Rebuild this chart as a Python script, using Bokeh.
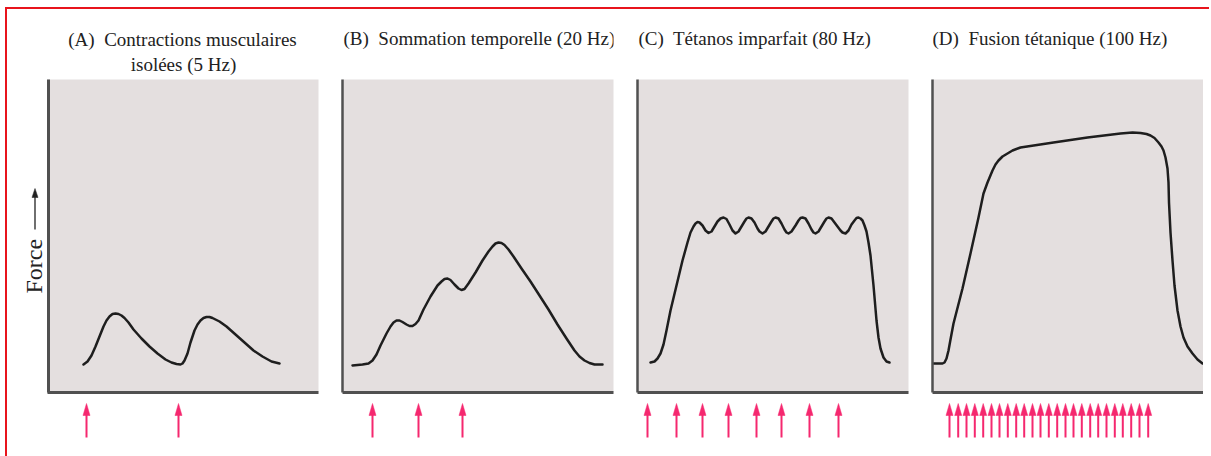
import math
from bokeh.plotting import figure
from bokeh.layouts import row, column
from bokeh.models import Range1d, FixedTicker
from bokeh.core.properties import value
from bokeh.embed import file_html
from bokeh.resources import INLINE

# ---------------- data (time and force in arbitrary units) ----------------
title_a1 = "(A)\u00a0 Contractions musculaires"
title_a2 = "isolées (5 Hz)"
title_b = "(B)\u00a0 Sommation temporelle (20 Hz)"
title_c = "(C)\u00a0 Tétanos imparfait (80 Hz)"
title_d = "(D)\u00a0 Fusion tétanique (100 Hz)"
y_label = "Force"

a_t = [36, 40, 44, 48, 52, 56, 59, 62, 65, 68, 71, 74, 77, 81, 86, 94, 102, 110, 118,
       124, 129, 133, 135, 137, 140, 143, 147, 150, 153, 156, 159, 162, 165, 168,
       172, 179, 188, 197, 206, 215, 224, 232]
a_f = [28, 31, 37, 46, 56, 66, 72, 76, 78.5, 79, 78.5, 77, 74.5, 70, 63, 54, 46, 39, 33,
       30, 28.5, 28, 29, 32, 39, 50, 62, 68, 72, 74.5, 75.5, 75.5, 74.5, 73,
       71, 66, 58, 50, 42, 36, 31, 29]
a_stim = [39, 131]

b_t = [10, 20, 26, 30, 34, 38, 44, 48, 51, 54, 57, 60, 64, 67, 70, 73, 76, 81, 88, 95,
       99, 102, 105, 108, 112, 116, 119, 122, 126, 133, 140, 146, 150, 153, 156, 159,
       162, 166, 171, 179, 188, 197, 206, 215, 224, 232, 237, 242, 247, 252, 260]
b_f = [27, 28, 29, 32, 38, 47, 59, 66, 70, 72, 72, 70.5, 68, 66.5, 66.5, 68.5, 72, 83, 96, 107,
       111, 113.5, 114, 112.5, 108, 104, 102.5, 103.5, 109, 120, 132, 141, 146, 149, 150, 149.5,
       147.5, 143, 136, 124, 111, 97, 83, 68, 54, 42, 36, 32, 29.5, 28, 28]
b_stim = [30, 76, 120]

c_t = [13, 17, 20, 23, 26, 29, 33, 39, 45, 50, 53, 56, 58, 60, 62, 65, 68, 71, 74, 77,
       80, 83, 86, 89, 92, 95, 98, 101, 104, 107, 109, 111, 114, 117, 120, 122, 125, 128,
       131, 134, 136, 138, 141, 144, 147, 149, 151, 154, 158, 161, 163, 165, 168, 171,
       174, 176, 178, 181, 184, 187, 189, 191, 194, 197, 200, 203, 205, 208, 211, 214,
       217, 219, 221, 223, 225, 227, 229, 231, 233, 236, 239, 241, 243, 246, 249, 252]
c_f = [30, 31, 34, 39, 48, 62, 82, 107, 132, 150, 160, 166, 169, 170.5, 170, 167, 162, 159.5,
       161, 166, 171, 174, 175, 173.5, 168, 162, 159, 161, 166, 171, 174, 175, 174, 170, 164,
       161, 159, 161, 166, 171, 174, 175, 174, 169, 163, 160, 159, 161, 167, 172, 174.5, 175,
       174, 169, 163, 160, 159, 161, 166, 171, 174, 175, 174, 170, 166, 162, 160, 159, 162,
       168, 172, 174.5, 175, 174, 172, 167, 161, 150, 137, 107, 72, 55, 44, 35, 31, 30]
c_stim = [10, 39, 65, 91, 119, 144, 172, 201]

d_t = [1, 10, 12, 14, 16, 18, 21, 30, 38, 46, 51, 55, 60, 63, 66, 70, 75, 80, 88, 121,
       155, 188, 200, 208, 214, 218, 222, 226, 229, 231, 233, 235, 236, 236.5, 238, 240,
       242, 245, 248, 251, 255, 260, 265, 270]
d_f = [29, 29, 30, 34, 42, 53, 69, 104, 139, 175, 199, 210, 222, 228, 232, 236, 239, 242, 245, 250,
       255, 259, 260, 259.5, 258.5, 257, 254.5, 250, 246, 242, 235, 224, 210, 190, 160, 132,
       107, 82, 66, 55, 46, 39, 33, 29]
d_stim = [17, 25.7, 34, 42.3, 50.7, 59, 67, 75.3, 83.7, 91.7, 100, 108, 116.3, 124.7,
          133, 141, 149.3, 157.7, 165.7, 174, 182.3, 190.3, 198.7, 207, 215.7]

# ---------------- styles ----------------
FONT = "Liberation Serif"
PANEL_BG = "#e4dfdf"
AXIS_COL = "#505050"
CURVE_COL = "#1e1e1e"
PINK = "#f5286f"
TEXT_COL = "#222222"
FRAME_W = 271
TITLE_H = 70
MAIN_H = 313
BOTTOM_B = 4
STIM_H = 50
LABEL_W = 40


def blank(fig):
    fig.background_fill_color = "white"
    fig.border_fill_color = "white"
    fig.outline_line_color = None
    fig.grid.visible = False
    return fig


def make_panel(t, f, stim, titles, first=False, last=False):
    lb = 0 if first else 12
    rb = 0 if last else 12
    xr = Range1d(0, FRAME_W)
    common = dict(output_backend="svg", toolbar_location=None,
                  min_border_left=lb, min_border_right=rb)

    # title strip
    h = blank(figure(frame_width=FRAME_W, frame_height=TITLE_H, x_range=xr,
                     y_range=Range1d(0, TITLE_H), x_axis_location=None, y_axis_location=None,
                     min_border_top=0, min_border_bottom=0, **common))
    for (txt, x, y, align) in titles:
        h.text(x=[x], y=[y], text=[txt], text_align=align, text_baseline="alphabetic",
               text_font=value(FONT), text_font_size="19px", text_color=TEXT_COL)

    # main panel
    p = figure(frame_width=FRAME_W, frame_height=MAIN_H, x_range=xr, y_range=Range1d(0, MAIN_H),
               min_border_top=0, min_border_bottom=BOTTOM_B, **common)
    p.background_fill_color = PANEL_BG
    p.border_fill_color = "white"
    p.outline_line_color = None
    p.grid.visible = False
    for ax in (p.xaxis[0], p.yaxis[0]):
        ax.ticker = FixedTicker(ticks=[])
        ax.major_tick_out = 0
        ax.major_tick_in = 0
        ax.minor_tick_out = 0
        ax.minor_tick_in = 0
        ax.major_label_standoff = 0
        ax.major_label_text_font_size = "0px"
        ax.axis_line_color = AXIS_COL
    p.xaxis.axis_line_width = 3
    p.yaxis.axis_line_width = 5 if first else 2.5
    p.line(t, f, line_color=CURVE_COL, line_width=2.5, line_join="round", line_cap="round")

    # stimulus strip
    s = blank(figure(frame_width=FRAME_W, frame_height=STIM_H, x_range=xr,
                     y_range=Range1d(0, STIM_H), x_axis_location=None, y_axis_location=None,
                     min_border_top=0, min_border_bottom=0, **common))
    n = len(stim)
    s.segment(x0=stim, y0=[9] * n, x1=stim, y1=[33] * n, line_color=PINK, line_width=2)
    s.patches(xs=[[v - 3.5, v, v + 3.5] for v in stim], ys=[[31, 43, 31]] * n,
              fill_color=PINK, line_color=PINK, line_width=0.5)
    return column(h, p, s)


# y-axis label strip ("Force" with an upward arrow), y measured up from the strip bottom
total_h = TITLE_H + MAIN_H + BOTTOM_B + STIM_H
lab = blank(figure(frame_width=LABEL_W, frame_height=total_h, x_range=Range1d(0, LABEL_W),
                   y_range=Range1d(0, total_h), x_axis_location=None, y_axis_location=None,
                   output_backend="svg", toolbar_location=None,
                   min_border_left=0, min_border_right=0, min_border_top=0, min_border_bottom=0))
lab.text(x=[26.5], y=[153], text=[y_label], angle=math.pi / 2, text_align="left",
         text_baseline="middle", text_font=value(FONT), text_font_size="24px",
         text_color=TEXT_COL)
lab.segment(x0=[27.5], y0=[217], x1=[27.5], y1=[251], line_color="#222222", line_width=1.3)
lab.patches(xs=[[24.5, 27.5, 30.5]], ys=[[249, 258, 249]], fill_color="#222222",
            line_color="#222222", line_width=0.5)

colA = make_panel(a_t, a_f, a_stim,
                  [(title_a1, 135, 40, "center"), (title_a2, 136, 15, "center")], first=True)
colB = make_panel(b_t, b_f, b_stim, [(title_b, 1, 41, "left")])
colC = make_panel(c_t, c_f, c_stim, [(title_c, 1, 41, "left")])
colD = make_panel(d_t, d_f, d_stim, [(title_d, 0, 41, "left")], last=True)

layout = row(lab, colA, colB, colC, colD,
             styles={"margin-left": "5px", "margin-top": "7px",
                     "padding-bottom": "12px", "padding-right": "6px",
                     "border-left": "2px solid #e8141c", "border-top": "2px solid #e8141c"})

open("out.html", "w").write(file_html(layout, INLINE))
